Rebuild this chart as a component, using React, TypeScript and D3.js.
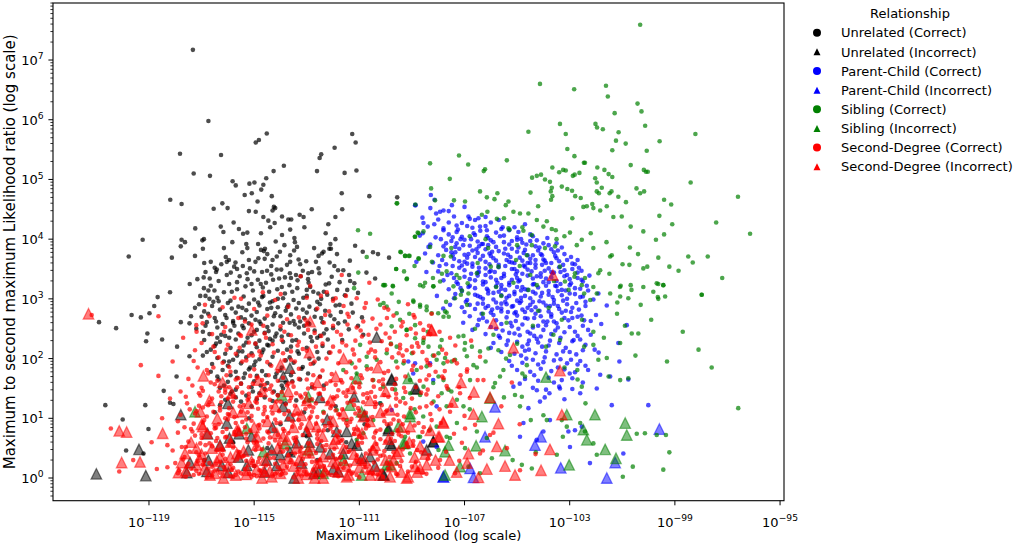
import React from "react";
import * as d3 from "d3";

// All values are log10 exponents, stored as flat pairs: log10(max likelihood), log10(ratio), ...
const unrelatedCorrect: number[] = [
  -117.33,7.17, -116.74,5.98, -114.52,5.77, -114.94,5.62, -114.82,5.66, -111.27,5.76, -111.14,5.62, -111.94,5.53,
  -117.82,5.43, -116.26,5.41, -112.45,5.42, -112.51,5.36, -113.87,5.23, -114.26,5.14, -112.61,5.14, -111.11,5.15,
  -111.56,5.11, -117.30,5.10, -116.68,5.06, -115.82,4.97, -115.70,4.90, -114.54,5.02, -114.65,4.91, -114.73,4.83,
  -115.18,4.93, -114.99,4.95, -115.09,4.77, -115.36,4.74, -114.33,4.72, -111.67,4.77, -110.62,4.72, -118.19,4.66,
  -117.76,4.59, -114.87,4.63, -116.54,4.51, -116.21,4.60, -116.01,4.52, -114.25,4.54, -114.20,4.52, -114.30,4.48,
  -115.20,4.47, -114.94,4.46, -112.81,4.50, -111.65,4.50, -109.56,4.70, -113.94,4.38, -113.70,4.33, -113.59,4.33,
  -113.27,4.41, -113.12,4.37, -111.91,4.37, -115.78,4.28, -115.58,4.17, -114.65,4.37, -114.46,4.31, -117.24,4.18,
  -116.27,4.21, -116.17,4.12, -115.42,4.09, -115.26,4.11, -114.74,4.10, -114.39,4.20, -114.22,4.27, -113.94,4.07,
  -113.63,4.16, -113.47,4.02, -113.09,4.20, -112.18,4.25, -112.28,4.10, -111.91,4.00, -112.10,3.92, -112.14,3.84,
  -119.24,3.99, -117.76,3.99, -117.63,3.95, -117.79,3.88, -116.97,3.98, -116.91,4.00, -116.95,3.84, -115.83,3.95,
  -115.26,3.85, -114.74,3.82, -114.63,3.80, -114.59,3.84, -114.18,3.96, -114.02,3.79, -114.14,3.71, -113.63,3.73,
  -113.48,3.81, -113.37,3.87, -112.72,3.85, -112.42,3.76, -112.36,3.79, -112.08,3.84, -111.16,3.89, -119.77,3.71,
  -118.13,3.69, -116.08,3.70, -115.96,3.65, -116.04,3.62, -115.20,3.65, -114.84,3.68, -114.60,3.67, -114.30,3.65,
  -113.63,3.62, -113.31,3.66, -113.02,3.63, -112.13,3.61, -111.36,3.64, -110.87,3.79, -110.48,3.78, -110.29,3.75,
  -109.87,3.69,
  -116.50,3.52, -116.42,3.49, -117.16,3.33, -116.92,3.36, -116.69,3.34, -116.91,3.18, -116.74,3.14, -116.51,3.14,
  -116.04,3.40, -115.89,3.44, -115.71,3.61, -115.76,3.54, -115.43,3.55, -115.28,3.43, -115.16,3.51, -115.00,3.46,
  -114.86,3.32, -114.75,3.25, -114.67,3.19, -114.51,3.47, -114.28,3.32, -114.14,3.49, -113.97,3.49, -113.83,3.36,
  -113.64,3.43, -113.41,3.40, -113.23,3.38, -112.94,3.43, -112.93,3.27, -112.55,3.51, -112.52,3.43, -112.28,3.24,
  -111.81,3.48, -111.61,3.48, -111.39,3.40, -111.19,3.26, -110.73,3.44, -110.40,3.34, -118.20,3.11, -118.67,3.03,
  -115.65,3.16, -115.33,3.21, -114.43,3.12, -114.12,3.16, -113.83,3.09, -113.66,3.23, -113.36,3.18, -113.13,3.02,
  -112.87,3.20, -112.56,3.09, -112.22,3.07, -111.84,3.15, -111.46,3.15,
  -120.90,2.61, -120.25,2.51, -119.66,2.73, -119.31,2.69, -118.98,2.76, -118.80,2.88, -119.06,2.42, -119.11,2.29,
  -118.50,2.32, -117.93,2.20, -117.79,2.61, -117.46,2.59, -117.46,2.04, -117.95,1.70, -118.44,1.46, -118.20,1.26,
  -118.07,1.24, -120.66,1.22, -119.14,1.22, -120.00,0.98, -119.02,0.82, -119.87,0.46, -119.21,0.41,
  -116.4,3.02, -115.9,2.97, -115.4,3.04, -115.0,2.99, -114.7,3.03, -114.3,2.96, -113.9,3.01, -113.5,2.98, -113.0,3.05,
  -112.6,2.95, -112.0,3.00, -117.1,2.91, -116.6,2.88, -116.0,2.93, -115.6,2.87, -115.2,2.92, -114.8,2.89, -114.4,2.94,
  -114.1,2.86, -113.7,2.90, -113.3,2.93, -112.9,2.87, -112.5,2.91, -111.9,2.89, -111.3,2.92, -116.9,2.79, -116.3,2.82,
  -115.7,2.77, -115.3,2.81, -114.9,2.78, -114.5,2.83, -114.2,2.76, -113.8,2.80, -113.4,2.84, -113.0,2.77, -112.3,2.80,
  -111.7,2.78, -117.4,2.71, -116.5,2.68, -116.1,2.73, -115.5,2.69, -115.1,2.72, -114.6,2.67, -114.0,2.71, -113.6,2.74,
  -113.1,2.68, -112.7,2.70, -112.1,2.72, -110.9,2.69, -116.8,2.61, -116.2,2.58, -115.8,2.63, -115.2,2.59, -114.8,2.62,
  -114.3,2.57, -113.9,2.60, -113.5,2.63, -112.9,2.58, -112.4,2.61, -111.8,2.59, -117.2,2.50, -116.4,2.52, -115.9,2.47,
  -115.4,2.51, -114.9,2.48, -114.5,2.53, -114.0,2.49, -113.3,2.52, -112.7,2.47, -112.0,2.51, -111.4,2.49, -116.7,2.41,
  -116.1,2.38, -115.6,2.42, -115.1,2.39, -114.6,2.43, -114.2,2.37, -113.7,2.40, -113.1,2.42, -112.5,2.38, -116.9,2.31,
  -116.3,2.28, -115.7,2.32, -115.3,2.27, -114.8,2.30, -114.4,2.33, -113.9,2.28, -113.4,2.31, -112.8,2.29, -112.2,2.32,
  -116.5,2.21, -115.9,2.18, -115.4,2.22, -114.9,2.19, -114.5,2.23, -113.6,2.20, -113.0,2.18, -112.4,2.21, -116.8,2.11,
  -116.1,2.08, -115.6,2.12, -115.1,2.09, -114.7,2.10, -114.1,2.13, -113.3,2.08, -112.6,2.11, -116.4,2.01, -115.8,1.98,
  -115.3,2.02, -114.8,1.99, -114.3,2.03, -113.8,1.97, -112.9,2.00, -116.6,1.91, -116.0,1.88, -115.5,1.92, -115.0,1.89,
  -114.4,1.90, -113.5,1.93, -116.2,1.81, -115.7,1.78, -115.2,1.82, -114.7,1.79, -114.0,1.80, -113.2,1.83, -116.4,1.70,
  -115.9,1.72, -115.4,1.68, -114.9,1.71, -114.2,1.69, -113.6,1.72, -112.5,1.70, -116.0,1.61, -115.5,1.58, -115.0,1.62,
  -114.5,1.59, -113.8,1.60, -116.3,1.51, -115.7,1.48, -115.1,1.52, -114.6,1.49, -113.9,1.50, -112.8,1.52, -115.9,1.41,
  -115.3,1.38, -114.8,1.42, -114.1,1.39, -116.1,1.31, -115.5,1.28, -114.9,1.32, -114.3,1.29, -113.4,1.30,
  -116.5,1.10, -115.2,1.00, -114.0,0.90, -113.1,1.10, -112.2,0.80, -115.8,0.60, -114.5,0.50, -113.6,0.40, -112.6,0.30,
  -111.5,0.60, -116.9,0.30, -115.0,0.20, -113.0,0.70, -110.8,0.90, -111.9,1.20,
  -116.85,3.45, -116.25,3.58, -115.55,3.38, -114.95,3.62, -114.35,3.41, -113.75,3.57, -113.15,3.47, -112.65,3.62,
  -112.05,3.37, -117.05,3.05, -116.65,3.22, -116.15,3.11, -115.65,3.28, -115.05,3.14, -114.55,3.27, -113.95,3.20,
  -113.35,3.31, -112.75,3.12, -112.15,3.26, -111.55,3.06, -116.75,2.75, -116.35,2.96, -115.85,2.84, -115.35,2.66,
  -114.85,2.94, -114.25,2.71, -113.75,2.86, -113.25,2.62, -112.65,2.82, -111.95,2.66, -111.25,2.77, -116.95,2.45,
  -116.45,2.62, -115.95,2.35, -115.45,2.55, -114.95,2.25, -114.45,2.46, -113.95,2.37, -113.45,2.57, -112.85,2.36,
  -112.25,2.49, -111.65,2.31, -116.65,2.15, -116.15,1.95, -115.65,2.05, -115.15,1.85, -114.65,2.15, -114.15,1.75,
  -113.65,2.02, -113.15,1.86, -112.55,2.00, -116.35,1.65, -115.85,1.45, -115.35,1.75, -114.75,1.55, -114.25,1.45,
  -113.55,1.62, -112.95,1.75,
  -117.25,3.72, -116.65,3.62, -116.15,3.85, -115.45,3.78, -114.85,3.92, -114.35,3.55, -113.85,3.90, -113.25,3.58,
  -112.55,3.72, -111.85,3.75, -117.45,3.25, -116.85,3.05, -116.35,3.30, -115.85,3.12, -115.25,3.33, -114.65,3.05,
  -114.05,3.34, -113.55,3.12, -112.95,3.33, -112.35,3.12, -111.75,3.28, -111.05,3.10, -117.25,2.85, -116.55,2.95,
  -116.05,2.68, -115.45,2.85, -114.95,2.65, -114.35,2.85, -113.65,2.60, -113.15,2.82, -112.45,2.68, -111.75,2.90,
  -111.05,2.55, -116.85,2.55, -116.25,2.40, -115.75,2.55, -115.25,2.35, -114.75,2.58, -114.15,2.42, -113.55,2.30,
  -112.95,2.60, -112.35,2.42, -111.55,2.62, -110.85,2.40, -116.95,2.05, -116.45,2.25, -115.95,1.95, -115.45,2.12,
  -114.95,1.95, -114.45,2.22, -113.95,1.85, -113.35,2.12, -112.75,1.92, -112.15,2.10, -116.65,1.78, -116.15,1.55,
  -115.65,1.68, -115.05,1.45, -114.55,1.72, -113.95,1.55, -113.25,1.65, -112.35,1.55, -116.30,1.22, -115.70,1.35,
  -115.10,1.20, -114.60,1.35, -113.80,1.25, -112.90,1.30,
  -115.65,3.50, -115.10,3.25, -114.70,3.45, -114.10,3.00, -113.60,3.35, -113.00,3.15, -112.45,3.00, -115.95,3.25,
  -116.45,3.45, -116.90,3.60, -115.30,3.92, -114.50,3.75, -113.45,3.95, -112.80,3.45, -111.95,3.55, -111.35,3.30,
  -115.80,2.60, -115.00,2.45, -114.30,2.30, -113.75,2.15, -113.10,2.55, -112.60,2.35, -116.40,2.35, -117.00,2.70,
  -116.70,3.00,
];

const unrelatedIncorrect: number[] = [
  -121.00,0.07, -119.12,0.04, -119.38,0.48, -117.79,1.06, -116.04,0.92, -116.77,0.74, -115.57,0.74, -115.94,0.67,
  -113.64,1.84, -113.89,1.70, -110.34,2.36, -109.77,1.66, -108.82,1.49, -111.20,1.36, -113.64,1.04, -112.22,0.98,
  -111.86,0.78, -111.48,0.78, -114.33,0.47, -113.64,0.44, -113.38,0.59, -113.00,0.78, -112.49,0.52, -112.11,0.41,
  -111.61,0.41, -111.29,0.58, -110.59,0.36, -109.90,0.80, -109.77,0.55, -108.19,0.61, -117.44,0.26, -117.56,0.09,
  -116.74,0.30, -116.23,0.21, -115.98,0.09, -115.28,0.21, -114.52,0.30, -114.14,0.21, -113.48,0.00, -112.72,0.08,
  -112.55,0.11, -111.80,0.11, -110.09,0.05, -110.91,0.33, -115.22,0.47, -114.02,0.39, -116.80,0.11,
  -108.18,0.61, -108.44,0.47, -108.88,1.50, -109.77,1.64, -109.89,0.83, -109.83,0.58, -110.06,0.05,
  -116.3,0.55, -115.1,0.70, -114.6,0.10, -113.2,0.25, -112.9,0.60, -112.0,0.15, -111.1,0.55, -110.4,0.20, -115.6,0.35,
  -114.3,0.85, -113.9,1.20, -116.0,1.25, -112.5,1.35, -110.8,1.05,
];

const parentChildCorrect: number[] = [
  -108.3,4.52, -107.6,4.47, -107.0,4.54, -108.6,4.36, -108.0,4.33, -107.4,4.38, -106.8,4.34, -106.2,4.37, -105.7,4.32,
  -108.4,4.21, -107.8,4.18, -107.3,4.23, -106.7,4.19, -106.2,4.22, -105.6,4.17, -105.1,4.20, -108.7,4.06, -108.1,4.03,
  -107.6,4.08, -107.1,4.04, -106.6,4.07, -106.1,4.02, -105.5,4.06, -105.0,4.03, -104.5,4.08, -108.3,3.91, -107.8,3.88,
  -107.3,3.93, -106.8,3.89, -106.3,3.92, -105.8,3.87, -105.3,3.91, -104.8,3.94, -104.3,3.88, -103.8,3.90, -108.5,3.76,
  -108.0,3.73, -107.5,3.78, -107.0,3.74, -106.5,3.77, -106.0,3.72, -105.5,3.76, -105.0,3.79, -104.6,3.73, -104.1,3.75,
  -103.6,3.78, -108.2,3.61, -107.7,3.58, -107.2,3.63, -106.7,3.59, -106.2,3.62, -105.7,3.57, -105.2,3.61, -104.8,3.64,
  -104.3,3.58, -103.9,3.60, -103.4,3.63, -102.9,3.59, -108.0,3.46, -107.5,3.43, -107.0,3.48, -106.5,3.44, -106.0,3.47,
  -105.5,3.42, -105.0,3.46, -104.6,3.49, -104.1,3.43, -103.7,3.45, -103.2,3.48, -102.7,3.44, -107.8,3.31, -107.3,3.28,
  -106.8,3.33, -106.3,3.29, -105.8,3.32, -105.3,3.27, -104.9,3.31, -104.4,3.34, -104.0,3.28, -103.5,3.30, -103.0,3.33,
  -102.5,3.29, -107.6,3.16, -107.1,3.13, -106.6,3.18, -106.1,3.14, -105.6,3.17, -105.1,3.12, -104.7,3.16, -104.2,3.19,
  -103.8,3.13, -103.3,3.15, -102.8,3.18, -102.3,3.14, -107.4,3.01, -106.9,2.98, -106.4,3.03, -105.9,2.99, -105.4,3.02,
  -105.0,2.97, -104.5,3.01, -104.1,3.04, -103.6,2.98, -103.1,3.00, -102.6,3.03, -102.1,2.99, -107.1,2.86, -106.6,2.83,
  -106.1,2.88, -105.6,2.84, -105.2,2.87, -104.8,2.82, -104.3,2.86, -103.9,2.89, -103.4,2.83, -102.9,2.85, -102.4,2.88,
  -106.8,2.71, -106.3,2.68, -105.9,2.73, -105.4,2.69, -105.0,2.72, -104.6,2.67, -104.1,2.71, -103.7,2.74, -103.2,2.68,
  -102.7,2.70, -102.0,2.73, -106.5,2.56, -106.0,2.53, -105.6,2.58, -105.2,2.54, -104.8,2.57, -104.4,2.52, -103.9,2.56,
  -103.5,2.59, -103.0,2.53, -102.5,2.55, -101.8,2.58, -106.2,2.41, -105.7,2.38, -105.3,2.43, -104.9,2.39, -104.5,2.42,
  -104.1,2.37, -103.7,2.41, -103.2,2.44, -102.7,2.38, -102.2,2.40, -105.9,2.26, -105.4,2.23, -105.0,2.28, -104.6,2.24,
  -104.2,2.27, -103.8,2.22, -103.4,2.26, -102.9,2.29, -102.4,2.23, -105.6,2.11, -105.1,2.08, -104.7,2.13, -104.3,2.09,
  -103.9,2.12, -103.5,2.07, -103.0,2.11, -102.5,2.14, -105.3,1.96, -104.8,1.93, -104.4,1.98, -104.0,1.94, -103.6,1.97,
  -103.1,1.92, -102.6,1.96, -105.0,1.81, -104.5,1.78, -104.1,1.83, -103.7,1.79, -103.2,1.82, -102.8,1.77, -102.3,1.81,
  -104.7,1.66, -104.2,1.63, -103.8,1.68, -103.3,1.64, -102.9,1.67, -104.4,1.51, -103.9,1.48, -103.4,1.53, -102.9,1.49,
  -107.3,4.12, -106.4,4.14, -105.8,4.11, -107.5,3.97, -107.0,3.99, -106.5,3.96, -106.0,3.98, -105.5,3.95, -105.0,3.99,
  -104.5,3.97, -107.7,3.82, -107.2,3.84, -106.7,3.81, -106.2,3.83, -105.7,3.80, -105.2,3.84, -104.7,3.82, -104.2,3.81,
  -103.7,3.83, -107.4,3.67, -106.9,3.69, -106.4,3.66, -105.9,3.68, -105.4,3.65, -104.9,3.69, -104.5,3.67, -104.0,3.66,
  -103.5,3.68, -103.1,3.65, -107.2,3.52, -106.7,3.54, -106.2,3.51, -105.7,3.53, -105.2,3.50, -104.7,3.54, -104.3,3.52,
  -103.8,3.51, -103.4,3.53, -102.9,3.50, -107.0,3.37, -106.5,3.39, -106.0,3.36, -105.5,3.38, -105.0,3.35, -104.6,3.39,
  -104.1,3.37, -103.7,3.36, -103.2,3.38, -102.7,3.35, -106.8,3.22, -106.3,3.24, -105.8,3.21, -105.3,3.23, -104.8,3.20,
  -104.4,3.24, -103.9,3.22, -103.5,3.21, -103.0,3.23, -106.6,3.07, -106.1,3.09, -105.6,3.06, -105.1,3.08, -104.7,3.05,
  -104.3,3.09, -103.8,3.07, -103.3,3.06, -102.8,3.08, -106.3,2.92, -105.8,2.94, -105.4,2.91, -104.9,2.93, -104.5,2.90,
  -104.0,2.94, -103.6,2.92, -103.1,2.91, -106.0,2.77, -105.6,2.79, -105.1,2.76, -104.7,2.78, -104.3,2.75, -103.8,2.79,
  -103.3,2.77,
  -107.15,4.00, -106.35,3.92, -105.65,4.05, -104.95,3.86, -104.25,3.98, -103.55,3.72, -107.45,3.55, -106.85,3.75,
  -106.05,3.58, -105.35,3.74, -104.75,3.56, -104.05,3.73, -103.25,3.57, -102.55,3.47, -107.25,3.25, -106.45,3.45,
  -105.75,3.27, -105.05,3.41, -104.35,3.25, -103.65,3.43, -102.95,3.26, -102.25,3.39, -106.95,2.95, -106.15,3.17,
  -105.45,2.95, -104.85,3.14, -104.15,2.96, -103.45,3.13, -102.75,2.93, -106.45,2.65, -105.75,2.85, -105.05,2.63,
  -104.45,2.81, -103.85,2.62, -103.15,2.80, -102.45,2.64, -105.65,2.35, -104.95,2.50, -104.25,2.33, -103.55,2.47,
  -102.85,2.31, -104.85,2.05, -104.05,2.20, -103.35,1.99, -102.75,2.07, -108.15,4.25, -107.85,3.65, -108.45,3.45,
  -108.05,3.05, -107.55,2.90, -107.05,2.60,
  -107.6,4.28, -106.9,4.22, -106.0,4.28, -105.3,4.15, -104.7,4.25, -107.9,4.00, -107.35,3.87, -106.75,4.00, -106.1,3.90,
  -105.45,3.84, -104.85,4.00, -104.15,3.86, -103.5,3.93, -107.95,3.55, -107.45,3.73, -106.9,3.59, -106.3,3.72,
  -105.8,3.64, -105.25,3.70, -104.6,3.60, -104.05,3.57, -103.45,3.81, -102.95,3.70, -107.65,3.40, -107.1,3.56,
  -106.6,3.31, -106.05,3.45, -105.45,3.55, -104.95,3.29, -104.45,3.46, -103.9,3.34, -103.35,3.45, -102.8,3.58,
  -102.35,3.22, -107.35,3.08, -106.85,3.20, -106.3,3.00, -105.7,3.12, -105.2,3.32, -104.6,3.15, -104.05,3.10,
  -103.55,3.22, -103.0,3.09, -102.5,3.04, -107.0,2.78, -106.5,2.92, -105.95,2.82, -105.35,2.78, -104.85,2.96,
  -104.35,2.68, -103.75,2.88, -103.25,2.97, -102.65,2.82, -102.2,2.63, -106.7,2.48, -106.15,2.62, -105.55,2.47,
  -105.05,2.78, -104.6,2.45, -104.0,2.62, -103.45,2.52, -102.9,2.68, -102.3,2.48, -106.0,2.18, -105.35,2.30, -104.8,2.20,
  -104.35,2.38, -103.75,2.30, -103.15,2.18, -102.6,2.32, -102.05,2.15, -105.2,1.88, -104.65,2.00, -104.2,1.90,
  -103.45,1.85, -102.95,1.98, -102.4,1.88, -101.9,2.10, -104.9,1.58, -104.35,1.72, -103.6,1.60, -103.0,1.75, -102.5,1.60,
  -103.95,1.35, -103.2,1.32, -107.45,4.03, -106.55,3.83, -105.95,3.79, -105.1,3.60, -104.4,3.73, -103.95,3.47,
  -103.1,3.40, -106.2,3.40, -105.6,3.35, -104.8,3.42, -105.3,3.05, -104.4,2.95, -103.7,2.70,
  -107.25,4.16, -106.65,4.10, -106.15,4.05, -105.55,4.20, -104.95,4.12, -104.40,4.05, -103.85,4.02, -107.70,3.93,
  -107.05,3.90, -106.45,3.88, -105.90,3.95, -105.20,3.97, -104.65,3.91, -104.00,3.93, -103.30,3.86, -107.35,3.78,
  -106.60,3.70, -106.05,3.76, -105.30,3.62, -104.75,3.77, -104.30,3.65, -103.70,3.60, -103.20,3.75, -102.70,3.65,
  -107.00,3.62, -106.45,3.52, -105.85,3.45, -105.10,3.50, -104.50,3.60, -103.95,3.64, -103.60,3.44, -102.65,3.52,
  -107.40,3.35, -106.75,3.42, -106.20,3.28, -105.60,3.23, -105.00,3.20, -104.25,3.38, -103.80,3.28, -103.35,3.25,
  -102.55,3.32, -107.15,3.18, -106.50,3.05, -105.90,3.10, -105.45,3.15, -104.85,3.02, -104.40,3.12, -103.65,3.03,
  -103.15,3.14, -102.60,3.17, -106.80,2.90, -106.20,2.85, -105.60,2.92, -105.15,2.88, -104.60,2.85, -104.15,2.80,
  -103.45,2.88, -102.95,2.78, -102.40,2.95, -106.35,2.75, -105.80,2.64, -105.25,2.60, -104.70,2.68, -104.20,2.55,
  -103.60,2.62, -103.05,2.64, -102.55,2.72, -105.80,2.50, -105.10,2.42, -104.55,2.30, -104.00,2.48, -103.35,2.35,
  -102.80,2.45, -104.55,2.15, -103.95,2.02, -103.25,2.12, -102.70,1.90,
  -108.88,4.57, -108.28,4.74, -108.14,4.66, -108.08,4.43, -107.93,4.46, -107.80,4.48, -107.48,4.57, -108.56,4.27,
  -108.59,4.10, -108.37,3.87, -107.80,4.15, -106.85,4.38, -106.60,4.32, -106.47,4.35, -107.10,4.27, -106.41,4.21,
  -106.15,4.15, -108.86,4.57, -108.83,3.62,
  -100.83,2.56, -100.77,1.65, -100.01,1.22, -101.40,1.22, -101.59,2.89, -101.91,3.09, -101.15,2.26, -101.11,1.95,
  -101.46,1.70, -101.84,1.73, -101.97,1.50, -102.60,1.42, -102.80,0.80, -102.54,0.86, -102.23,0.25, -103.05,0.78,
  -103.75,0.97, -104.00,0.78, -104.76,0.92, -104.57,1.17, -104.13,1.28, -104.25,1.47, -103.77,1.42, -103.37,1.50,
  -105.14,1.53, -104.89,0.69, -104.25,0.64, -102.99,0.52, -100.96,0.41,
  -108.31,1.92, -108.19,1.64, -109.14,1.95, -108.95,1.75, -107.81,2.84, -108.06,1.20, -109.77,1.14, -110.21,1.25,
  -108.57,0.61, -108.06,0.52, -108.88,1.92,
];

const parentChildIncorrect: number[] = [
  -105.84,1.19, -106.22,0.69, -104.09,0.69, -104.32,0.55, -103.34,0.17, -101.27,0.26, -101.59,0.00, -99.59,0.82,
  -106.79,0.16, -106.66,0.01, -107.80,0.02, -107.81,0.02,
];

const siblingCorrect: number[] = [
  -100.32,7.59, -104.13,6.60, -102.83,6.51, -101.62,6.57, -101.55,6.39, -100.42,6.27, -100.27,6.14, -101.29,6.11,
  -100.13,5.90, -103.37,5.93, -102.02,5.93, -101.96,5.87, -101.74,5.84, -104.57,5.80, -103.15,5.76, -98.22,5.76,
  -101.14,5.79, -101.24,5.65, -100.87,5.60, -99.58,5.64, -103.09,5.51, -101.38,5.49, -100.07,5.48, -102.82,5.39,
  -107.21,5.40, -105.39,5.32, -108.31,5.27, -106.86,5.25, -103.66,5.20, -103.25,5.16, -103.15,5.15, -103.40,5.12,
  -102.46,5.28, -102.42,5.28, -101.95,5.20, -101.68,5.16, -101.52,5.09, -101.38,5.04, -100.68,5.24, -100.18,5.16,
  -100.10,5.13, -100.03,5.13, -106.22,5.17, -106.27,5.14, -104.43,5.03, -104.25,5.06, -104.09,5.08, -103.94,5.00,
  -103.75,4.96, -102.88,5.06, -102.81,5.08, -102.63,5.11, -102.03,5.02, -101.97,4.95, -107.56,5.01, -108.27,4.85,
  -106.41,4.80, -105.75,4.77, -106.15,4.70, -105.86,4.67, -105.33,4.63, -103.68,4.86, -103.72,4.80, -103.66,4.72,
  -103.71,4.66, -103.30,4.88, -103.09,4.84, -102.91,4.81, -102.79,4.72, -104.49,4.78, -101.97,4.80, -101.89,4.77,
  -101.78,4.86, -101.48,4.77, -101.41,4.80, -101.15,4.71, -100.46,4.85, -100.32,4.77, -100.17,4.80, -99.41,4.66,
  -99.14,4.58, -96.60,4.71, -100.86,4.62, -102.58,4.69, -102.48,4.54, -102.35,4.55, -102.14,4.59, -102.10,4.52,
  -101.84,4.48, -101.59,4.55,
  -97.43,4.28, -96.14,4.09, -97.75,3.71, -98.49,3.71, -98.32,3.61, -97.98,3.07, -98.86,3.47, -99.21,3.54, -99.41,4.08,
  -99.59,4.39, -99.72,3.99, -99.63,3.69, -100.05,3.54, -100.20,3.51, -100.20,4.13, -100.68,4.21, -100.71,3.86,
  -100.73,3.57, -101.02,4.38, -101.34,4.37, -100.99,3.58, -100.68,3.23, -100.65,3.15, -99.63,3.25, -99.44,3.23,
  -99.82,3.12, -101.46,3.71, -101.40,3.73, -101.49,3.42, -101.84,3.48, -102.10,3.85, -102.20,4.10, -102.54,3.99,
  -102.73,3.90, -102.99,4.11, -103.20,4.05, -103.53,4.15, -103.68,4.17, -104.00,4.21, -103.87,4.30, -103.56,3.88,
  -102.80,3.43, -102.82,3.37, -102.42,3.35, -101.91,3.43, -102.10,3.20, -102.45,3.09, -104.25,4.32, -104.57,4.43,
  -104.89,4.43, -105.14,4.46, -105.43,4.57, -105.77,4.34, -106.13,4.46, -106.34,4.41, -106.98,4.63, -107.40,4.65,
  -108.12,4.65, -108.87,4.58, -109.58,4.60, -108.88,4.04, -108.56,4.13, -108.75,4.10, -109.42,3.78, -109.26,3.72,
  -109.09,3.72, -109.60,3.50, -108.75,3.68, -108.31,3.87, -108.24,3.62, -107.80,3.72, -107.68,3.46, -107.52,3.71,
  -107.86,3.42, -107.19,3.35, -108.50,3.27, -108.18,3.21, -108.69,3.23, -110.02,3.23, -109.73,3.22, -109.20,3.33,
  -107.10,3.14, -106.88,3.26, -106.53,3.43, -106.00,3.54, -105.71,3.54, -105.33,4.18, -105.29,4.16, -104.76,4.14,
  -104.44,4.07, -104.44,3.90, -104.63,3.73, -105.04,3.65, -105.14,3.27, -104.57,3.15, -104.25,3.23, -103.94,3.85,
  -103.37,3.54, -103.18,3.29, -103.04,3.15, -101.09,3.20, -101.46,3.09, -100.20,3.20, -99.37,3.04, -99.63,3.00,
  -97.98,3.07, -96.59,1.17, -99.44,3.23, -99.65,3.03, -99.69,3.26, -100.30,2.90, -100.77,3.01, -101.06,3.22,
  -100.39,2.42, -100.64,2.42, -101.08,3.04, -101.19,2.94, -101.08,2.26, -101.08,1.64, -100.77,1.67, -101.59,2.01,
  -101.52,1.70, -99.69,0.72, -99.34,0.72, -99.21,0.43, -99.44,0.14, -100.14,0.75, -100.45,0.74, -100.60,0.19,
  -100.98,0.02, -102.10,0.58, -101.97,0.39, -102.42,0.78, -102.60,0.92, -103.26,0.69, -103.49,0.39, -104.29,0.43,
  -104.48,0.97, -104.89,1.20, -105.08,1.39, -104.82,1.36, -104.70,1.70, -104.63,1.89, -105.65,1.70, -105.52,1.81,
  -105.84,1.59, -105.90,1.52, -105.27,2.06, -105.42,2.00, -105.71,2.14, -106.09,2.17, -106.41,2.12, -106.72,2.20,
  -106.98,2.26, -106.91,2.04, -107.36,1.98, -107.49,1.95, -106.66,1.89, -106.53,1.85, -106.79,1.64, -107.80,1.92,
  -107.99,2.09, -107.87,2.31, -107.23,2.37, -107.04,2.38, -107.80,2.70, -107.68,2.77, -108.25,2.76, -107.36,3.01,
  -107.14,3.07, -106.85,3.09, -107.42,3.21, -107.93,3.29, -108.94,2.95, -108.69,2.87, -108.44,2.81, -109.20,2.48,
  -108.88,2.56, -109.45,2.65, -109.77,2.54, -110.08,2.93, -108.56,2.31, -108.37,2.20, -109.00,2.09, -109.32,1.92,
  -107.99,1.70, -107.80,1.64, -107.61,1.48, -108.56,1.53, -109.07,1.42, -108.18,1.28, -107.29,1.31, -107.04,1.20,
  -107.29,0.92, -108.31,0.81, -107.55,0.67, -107.99,0.47, -108.69,0.69, -109.07,0.41, -109.58,0.25, -106.98,0.50,
  -106.53,0.78, -106.15,0.67, -105.96,0.33, -106.85,0.19, -106.41,0.08, -105.17,0.30, -104.82,0.22, -104.44,0.16,
  -103.87,0.97, -103.11,0.86, -103.30,0.97, -102.54,1.53, -102.71,1.81, -101.91,1.98, -102.10,2.23, -102.45,2.20,
  -102.53,2.65, -102.22,2.98, -102.54,3.23, -101.97,3.09, -103.62,2.40, -103.37,2.31,
  -110.09,3.23, -109.77,3.09, -108.57,3.21, -108.19,3.21, -108.95,2.97, -108.69,2.90, -108.44,2.87, -108.00,2.76,
  -107.74,2.79, -110.21,2.90, -109.96,2.87, -109.58,2.76, -109.20,2.48, -108.88,2.34, -108.57,2.26, -107.93,2.20,
  -107.74,2.01, -108.06,1.98, -108.44,1.87, -108.82,1.81, -109.07,1.64, -108.19,1.59, -107.87,1.42, -107.68,1.20,
  -108.69,1.39, -109.33,1.34, -109.64,1.48, -110.09,1.53, -110.47,1.64, -110.72,1.87, -110.34,1.98, -109.96,2.09,
  -109.58,2.20, -110.72,2.03, -111.10,1.75, -110.97,2.23, -111.29,1.92, -111.61,1.81, -108.57,1.03, -108.06,0.86,
  -107.68,0.69, -108.76,0.69, -109.26,0.69, -109.96,0.80, -110.47,0.97, -110.85,0.75, -111.10,0.64, -111.48,0.97,
  -111.86,1.14, -112.37,1.11,
  -111.05,4.15, -110.59,4.09, -110.72,3.70, -109.56,4.60, -109.44,3.79, -109.26,3.72, -109.12,3.72, -109.60,3.50,
  -109.30,3.46, -109.19,3.34, -110.06,3.23, -109.72,3.21, -111.04,3.44, -111.20,3.18, -108.89,4.04, -108.78,4.11,
  -108.74,3.67,
  -106.5,3.60, -105.8,3.20, -105.0,3.90, -104.5,3.40, -106.9,2.90, -105.4,2.60, -104.2,2.80, -103.6,3.30, -106.2,4.00,
  -107.3,3.40, -104.8,4.20, -105.9,2.40, -103.9,2.20, -106.6,2.50, -107.6,2.70,
  -109.5,2.95, -108.9,3.55, -108.2,3.35, -107.5,3.85, -106.8,4.05, -106.1,3.85, -105.5,4.35, -104.9,3.55, -104.2,4.55,
  -103.5,4.00, -109.8,2.25, -109.1,2.75, -108.4,2.45, -107.7,2.95, -107.0,2.15, -106.3,2.75, -105.6,3.05, -105.0,2.25,
  -104.4,2.55, -103.8,2.85, -110.2,1.25, -109.6,1.95, -108.9,1.15, -108.2,2.05, -107.5,1.45, -106.8,1.15, -106.2,1.95,
  -105.5,1.35, -104.8,1.75, -104.0,1.05, -103.2,1.85, -102.4,1.25, -101.7,2.35, -101.2,2.75, -100.5,2.05, -99.9,2.65,
  -99.3,1.95, -98.7,2.45, -98.1,2.15, -97.6,1.85, -102.9,4.35, -101.6,3.95, -100.4,3.75, -99.1,4.25, -98.4,4.95,
  -97.2,3.35, -103.3,2.65, -102.1,2.45, -100.9,2.55, -102.7,1.65,
];

const siblingIncorrect: number[] = [
  -117.25,1.11, -115.28,0.83, -113.95,1.39, -112.94,1.36, -111.10,1.67, -111.36,1.22, -110.92,1.11, -109.14,1.67,
  -109.52,0.86, -109.07,1.03, -109.33,0.58, -114.65,0.44, -112.94,0.47, -112.37,0.08, -110.91,0.05, -109.96,0.22,
  -107.74,0.44, -113.83,0.58, -111.61,0.30,
  -103.90,1.69, -103.11,1.06, -102.04,1.06, -100.89,0.92, -100.83,0.72, -102.48,0.81, -102.35,0.64, -101.65,0.48,
  -101.24,0.33, -103.02,0.22, -105.46,0.46, -106.56,0.54, -106.34,1.03, -107.17,0.19, -107.74,0.05, -107.61,0.55,
  -109.07,1.08, -109.26,0.58, -109.83,0.22, -106.03,1.34,
];

const secondDegreeCorrect: number[] = [
  -115.5,3.00, -114.2,2.98, -113.0,3.02, -112.0,2.97, -111.1,3.01, -110.3,2.99, -116.2,2.86, -115.0,2.83, -113.7,2.87,
  -112.6,2.84, -111.6,2.88, -110.8,2.85, -109.9,2.82, -116.7,2.71, -115.6,2.68, -114.5,2.72, -113.3,2.69, -112.3,2.73,
  -111.4,2.70, -110.5,2.67, -109.7,2.72, -108.9,2.69, -117.2,2.56, -116.1,2.53, -115.1,2.57, -114.0,2.54, -113.0,2.58,
  -112.0,2.55, -111.1,2.52, -110.2,2.57, -109.4,2.54, -116.6,2.41, -115.5,2.38, -114.6,2.42, -113.6,2.39, -112.7,2.43,
  -111.7,2.40, -110.9,2.37, -110.0,2.42, -109.2,2.39, -108.3,2.41, -117.0,2.26, -116.0,2.23, -115.2,2.27, -114.3,2.24,
  -113.3,2.28, -112.4,2.25, -111.5,2.22, -110.6,2.27, -109.8,2.24, -108.8,2.26, -116.5,2.11, -115.7,2.08, -114.8,2.12,
  -113.9,2.09, -113.0,2.13, -112.1,2.10, -111.2,2.07, -110.4,2.12, -109.5,2.09, -108.6,2.11, -107.7,2.08, -117.3,1.96,
  -116.2,1.93, -115.3,1.97, -114.5,1.94, -113.6,1.98, -112.7,1.95, -111.8,1.92, -111.0,1.97, -110.2,1.94, -109.3,1.96,
  -108.4,1.93, -107.4,1.97, -116.8,1.81, -115.9,1.78, -115.0,1.82, -114.1,1.79, -113.3,1.83, -112.4,1.80, -111.5,1.77,
  -110.7,1.82, -109.9,1.79, -109.0,1.81, -108.1,1.78, -106.9,1.82, -117.5,1.66, -116.4,1.63, -115.6,1.67, -114.7,1.64,
  -113.9,1.68, -113.0,1.65, -112.1,1.62, -111.3,1.67, -110.5,1.64, -109.6,1.66, -108.7,1.63, -107.8,1.67, -106.5,1.64,
  -117.0,1.51, -116.1,1.48, -115.2,1.52, -114.4,1.49, -113.5,1.53, -112.7,1.50, -111.8,1.47, -111.0,1.52, -110.2,1.49,
  -109.3,1.51, -108.4,1.48, -107.2,1.52, -117.6,1.36, -116.6,1.33, -115.8,1.37, -114.9,1.34, -114.1,1.38, -113.2,1.35,
  -112.4,1.32, -111.5,1.37, -110.7,1.34, -109.9,1.36, -109.0,1.33, -108.0,1.37, -106.8,1.34, -117.1,1.21, -116.3,1.18,
  -115.4,1.22, -114.6,1.19, -113.8,1.23, -112.9,1.20, -112.1,1.17, -111.2,1.22, -110.4,1.19, -109.6,1.21, -108.7,1.18,
  -107.5,1.22, -117.8,1.06, -116.8,1.03, -116.0,1.07, -115.1,1.04, -114.3,1.08, -113.5,1.05, -112.6,1.02, -111.8,1.07,
  -111.0,1.04, -110.1,1.06, -109.3,1.03, -108.3,1.07, -107.0,1.04, -117.3,0.91, -116.5,0.88, -115.7,0.92, -114.8,0.89,
  -114.0,0.93, -113.2,0.90, -112.3,0.87, -111.5,0.92, -110.7,0.89, -109.8,0.91, -108.9,0.88, -107.9,0.92, -106.6,0.89,
  -117.9,0.76, -117.0,0.73, -116.2,0.77, -115.3,0.74, -114.5,0.78, -113.7,0.75, -112.9,0.72, -112.0,0.77, -111.2,0.74,
  -110.4,0.76, -109.5,0.73, -108.6,0.77, -107.4,0.74, -105.9,0.76, -117.5,0.61, -116.7,0.58, -115.9,0.62, -115.0,0.59,
  -114.2,0.63, -113.4,0.60, -112.6,0.57, -111.7,0.62, -110.9,0.59, -110.0,0.61, -109.2,0.58, -108.2,0.62, -107.1,0.59,
  -118.1,0.46, -117.2,0.43, -116.4,0.47, -115.6,0.44, -114.7,0.48, -113.9,0.45, -113.1,0.42, -112.3,0.47, -111.4,0.44,
  -110.6,0.46, -109.7,0.43, -108.8,0.47, -107.7,0.44, -106.3,0.46, -117.7,0.31, -116.9,0.28, -116.1,0.32, -115.3,0.29,
  -114.4,0.33, -113.6,0.30, -112.8,0.27, -111.9,0.32, -111.1,0.29, -110.3,0.31, -109.4,0.28, -108.4,0.32, -107.2,0.29,
  -118.3,0.18, -117.4,0.16, -116.6,0.19, -115.8,0.17, -115.0,0.20, -114.1,0.18, -113.3,0.15, -112.5,0.19, -111.6,0.17,
  -110.8,0.18, -109.9,0.16, -109.0,0.19, -108.0,0.17, -117.9,0.08, -117.1,0.07, -116.3,0.09, -115.5,0.08, -114.6,0.10,
  -113.8,0.08, -113.0,0.06, -112.2,0.09, -111.3,0.07, -110.5,0.08, -109.6,0.07, -108.6,0.09, -117.6,0.02, -116.8,0.01,
  -115.9,0.03, -115.1,0.02, -114.3,0.03, -113.5,0.01, -112.7,0.02, -111.8,0.03, -111.0,0.01, -110.1,0.02,
  -116.5,1.57, -115.5,1.58, -114.6,1.56, -113.7,1.58, -112.8,1.57, -111.9,1.56, -111.0,1.58, -110.1,1.57, -117.1,1.42,
  -116.1,1.43, -115.2,1.41, -114.3,1.43, -113.4,1.42, -112.5,1.41, -111.6,1.43, -110.7,1.42, -109.6,1.41, -116.7,1.27,
  -115.8,1.28, -114.9,1.26, -114.0,1.28, -113.1,1.27, -112.2,1.26, -111.3,1.28, -110.4,1.27, -117.2,1.12, -116.3,1.13,
  -115.5,1.11, -114.6,1.13, -113.7,1.12, -112.8,1.11, -111.9,1.13, -111.0,1.12, -110.0,1.11, -116.9,0.97, -116.0,0.98,
  -115.1,0.96, -114.2,0.98, -113.3,0.97, -112.4,0.96, -111.6,0.98, -110.7,0.97, -109.5,0.96, -117.4,0.82, -116.5,0.83,
  -115.6,0.81, -114.8,0.83, -113.9,0.82, -113.0,0.81, -112.1,0.83, -111.2,0.82, -110.2,0.81, -117.0,0.67, -116.1,0.68,
  -115.3,0.66, -114.4,0.68, -113.5,0.67, -112.6,0.66, -111.8,0.68, -110.9,0.67, -109.8,0.66, -117.6,0.52, -116.6,0.53,
  -115.8,0.51, -114.9,0.53, -114.0,0.52, -113.2,0.51, -112.4,0.53, -111.5,0.52, -110.5,0.51, -117.1,0.38, -116.2,0.39,
  -115.4,0.37, -114.5,0.39, -113.7,0.38, -112.9,0.37, -112.0,0.39, -111.1,0.38, -110.2,0.37, -117.5,0.24, -116.7,0.25,
  -115.9,0.23, -115.1,0.25, -114.2,0.24, -113.4,0.23, -112.6,0.25, -111.7,0.24, -110.8,0.23, -117.2,0.12, -116.4,0.13,
  -115.6,0.11, -114.8,0.13, -113.9,0.12, -113.1,0.11, -112.3,0.13, -111.4,0.12, -116.6,0.04, -115.7,0.05, -114.9,0.03,
  -114.0,0.05, -113.2,0.04, -112.4,0.03,
  -117.30,0.05, -116.95,0.22, -116.55,0.11, -116.20,0.47, -115.85,0.14, -115.45,0.36, -115.20,0.07, -114.85,0.27,
  -114.45,0.58, -114.15,0.09, -113.75,0.19, -113.45,0.41, -113.05,0.23, -112.75,0.14, -112.45,0.62, -112.05,0.05,
  -111.75,0.33, -111.35,0.21, -111.05,0.55, -110.65,0.09, -110.35,0.44, -109.95,0.25, -109.55,0.06, -109.15,0.52,
  -108.75,0.14, -108.35,0.38, -117.65,0.35, -117.25,0.71, -116.85,0.55, -116.45,0.84, -116.05,0.69, -115.75,1.02,
  -115.35,0.85, -114.95,0.71, -114.65,0.95, -114.25,0.81, -113.85,1.07, -113.55,0.86, -113.15,0.72, -112.85,1.03,
  -112.55,0.79, -112.15,0.92, -111.85,0.71, -111.45,0.88, -111.15,1.08, -110.75,0.83, -110.45,0.68, -110.05,0.95,
  -109.75,0.74, -109.35,0.90, -108.95,0.62, -108.55,0.85, -117.45,1.15, -117.05,1.38, -116.75,1.22, -116.35,1.45,
  -115.95,1.17, -115.65,1.52, -115.25,1.31, -114.85,1.16, -114.55,1.47, -114.15,1.28, -113.75,1.55, -113.45,1.21,
  -113.05,1.41, -112.75,1.18, -112.35,1.49, -111.95,1.33, -111.65,1.15, -111.25,1.51, -110.85,1.27, -110.55,1.44,
  -110.15,1.22, -109.75,1.49, -109.45,1.28, -109.05,1.17, -108.65,1.43, -108.25,1.25, -116.75,1.75, -116.35,2.02,
  -115.95,1.86, -115.55,2.18, -115.15,1.71, -114.75,2.05, -114.35,1.88, -113.95,2.31, -113.55,1.77, -113.15,2.16,
  -112.85,1.91, -112.45,2.38, -112.05,1.74, -111.75,2.12, -111.35,1.95, -110.95,2.47, -110.55,1.83, -110.15,2.29,
  -109.75,2.02, -109.35,2.61, -108.95,1.88, -108.55,2.35, -108.15,2.05, -107.75,1.79, -107.35,2.22, -116.15,2.45,
  -115.35,2.62, -114.55,2.35, -113.75,2.66, -112.95,2.48, -112.15,2.79, -111.45,2.57, -110.75,2.93, -109.95,2.68,
  -109.15,2.91, -118.10,1.95, -117.80,1.45, -117.90,0.95, -118.30,0.55, -118.00,0.25, -117.70,2.35,
  -117.85,0.13, -117.55,0.19, -117.15,0.28, -116.75,0.16, -116.45,0.24, -116.15,0.18, -115.65,0.31, -115.35,0.15,
  -115.05,0.29, -114.75,0.12, -114.55,0.21, -114.25,0.34, -113.95,0.07, -113.65,0.26, -113.35,0.11, -113.15,0.32,
  -112.85,0.05, -112.65,0.28, -112.35,0.20, -112.15,0.34, -111.85,0.15, -111.55,0.27, -111.25,0.09, -110.95,0.31,
  -110.75,0.18, -110.45,0.26, -110.15,0.12, -109.85,0.35, -109.45,0.20, -109.15,0.11, -108.85,0.27, -108.45,0.07,
  -117.75,0.52, -117.45,0.44, -117.05,0.58, -116.85,0.41, -116.45,0.62, -116.25,0.49, -115.95,0.55, -115.55,0.43,
  -115.25,0.60, -114.95,0.47, -114.65,0.66, -114.35,0.44, -114.05,0.57, -113.75,0.49, -113.45,0.63, -113.25,0.45,
  -112.95,0.58, -112.65,0.42, -112.25,0.55, -111.95,0.49, -111.65,0.64, -111.35,0.46, -111.05,0.59, -110.75,0.41,
  -110.35,0.57, -110.05,0.45, -109.65,0.62, -109.35,0.48, -108.95,0.55, -108.65,0.43,
  -117.65,0.85, -117.35,0.78, -116.95,0.93, -116.65,0.75, -116.35,0.90, -116.05,0.82, -115.75,0.77, -115.45,0.94,
  -115.15,0.80, -114.85,0.88, -114.45,0.76, -114.15,0.92, -113.85,0.79, -113.55,0.95, -113.25,0.84, -112.95,0.77,
  -112.65,0.91, -112.35,0.80, -112.05,0.88, -111.75,0.78, -111.35,0.94, -111.05,0.81, -110.65,0.87, -110.35,0.79,
  -109.95,0.90, -109.55,0.80, -109.15,0.76, -108.75,0.92, -108.35,0.79,
  -117.55,1.25, -117.25,1.08, -116.95,1.18, -116.55,1.11, -116.25,1.27, -115.95,1.06, -115.55,1.20, -115.25,1.10,
  -114.95,1.28, -114.65,1.07, -114.35,1.19, -114.05,1.12, -113.65,1.29, -113.35,1.08, -113.05,1.16, -112.65,1.25,
  -112.35,1.09, -112.05,1.21, -111.75,1.06, -111.45,1.26, -111.05,1.17, -110.75,1.09, -110.35,1.24, -109.95,1.13,
  -109.55,1.06, -109.25,1.25, -108.85,1.10, -108.45,1.20, -107.95,1.15,
  -117.35,1.55, -116.95,1.46, -116.65,1.60, -116.25,1.37, -115.95,1.52, -115.45,1.43, -115.05,1.58, -114.75,1.39,
  -114.35,1.55, -113.95,1.44, -113.55,1.60, -113.25,1.38, -112.95,1.50, -112.55,1.41, -112.25,1.58, -111.85,1.37,
  -111.45,1.47, -111.15,1.60, -110.85,1.40, -110.45,1.53, -110.05,1.39, -109.65,1.57, -109.25,1.44, -108.85,1.52,
  -108.45,1.40, -107.65,1.50,
  -117.15,1.85, -116.55,2.20, -116.05,1.72, -115.45,1.95, -114.95,2.25, -114.45,1.72, -113.85,1.97, -113.35,2.22,
  -112.75,1.72, -112.25,2.00, -111.65,2.27, -111.15,1.85, -110.65,2.10, -110.05,1.76, -109.45,2.17, -108.85,2.42,
  -108.35,1.72, -107.85,2.15, -107.15,1.72, -106.75,2.30,
  -115.8,0.02, -115.0,0.05, -114.2,0.07, -113.4,0.06, -112.6,0.04, -111.9,0.06, -111.1,0.05, -110.3,0.06, -116.3,0.27,
  -115.6,0.37, -114.8,0.33, -114.0,0.29, -113.2,0.37, -112.5,0.31, -111.7,0.36, -110.9,0.27, -110.1,0.38, -116.4,0.67,
  -115.7,0.72, -114.9,0.60, -114.1,0.72, -113.4,0.68, -112.6,0.73, -111.8,0.60, -111.0,0.70, -110.2,0.65, -109.4,0.70,
  -116.1,1.00, -115.3,0.98, -114.5,1.02, -113.7,0.99, -112.9,1.00, -112.1,1.01, -111.3,0.99, -110.5,1.02, -109.7,0.98,
  -116.0,1.33, -115.2,1.35, -114.4,1.31, -113.6,1.34, -112.8,1.32, -112.0,1.35, -111.2,1.31, -110.4,1.36, -109.6,1.33,
  -115.7,1.65, -114.9,1.68, -114.1,1.63, -113.3,1.66, -112.5,1.69, -111.7,1.64, -110.9,1.67, -110.1,1.65, -115.2,2.05,
  -113.6,2.12, -112.0,2.20, -110.4,2.02, -109.0,2.20,
  -111.85,2.45, -111.45,2.75, -111.15,2.30, -110.85,2.62, -110.55,2.15, -110.35,2.50, -110.05,2.85, -109.85,2.35,
  -109.55,1.85, -109.35,2.05, -109.05,2.50, -108.75,2.20, -108.45,1.65, -108.25,2.75, -107.95,2.45, -107.65,1.95,
  -111.65,1.60, -111.25,2.15, -110.95,1.72, -110.65,2.40, -110.25,1.62, -109.95,2.15, -109.65,2.45, -109.25,1.70,
  -108.95,2.10, -108.65,1.85, -108.35,2.55, -107.85,1.70, -107.55,2.35, -112.35,2.60, -112.65,2.20, -113.05,2.65,
  -113.45,1.95, -113.85,2.45, -114.25,2.10, -114.65,2.55, -115.05,2.05, -115.55,2.40, -116.05,2.15, -116.55,1.85,
  -121.18,2.73, -118.64,2.71, -119.31,1.89, -118.64,1.71, -118.20,1.33, -120.45,0.83, -120.13,0.11, -116.87,2.90,
  -116.96,2.59, -117.19,2.45, -117.25,2.14, -111.67,3.40, -110.62,3.27, -113.23,3.38, -112.87,3.22, -112.24,3.11,
  -111.51,3.05, -111.90,3.01, -113.99,3.08, -114.67,3.11, -115.75,3.02, -112.46,3.05,
  -108.94,2.73, -108.69,2.59, -108.56,2.48, -109.45,2.23, -109.20,2.14, -108.44,1.98, -108.31,1.89, -107.29,1.92,
  -106.91,1.78, -106.41,2.03, -107.68,1.54, -107.17,1.42, -106.28,1.64, -108.25,0.97, -107.55,1.11, -106.98,0.83,
  -106.03,0.72, -106.41,0.41, -105.39,0.50, -107.93,0.30, -107.36,0.08, -104.89,0.13, -105.60,1.20, -104.90,0.90,
  -104.30,0.40, -105.20,1.60, -118.90,0.60, -118.50,1.00, -119.60,0.30, -118.70,0.15,
];

const secondDegreeIncorrect: number[] = [
  -121.30,2.75,
  -120.13,0.79, -119.85,0.77, -120.04,0.26, -119.34,0.27, -118.48,0.75, -116.93,1.71, -117.04,1.11, -116.96,0.86,
  -115.09,2.48, -115.85,1.42, -115.47,1.11, -114.84,1.64, -112.87,2.62, -117.63,0.41, -117.76,0.26, -117.88,0.09,
  -117.06,0.30, -116.68,0.05, -116.17,0.00, -115.66,0.41, -115.28,0.13, -114.65,0.11, -114.33,0.02, -113.89,0.22,
  -113.13,0.13, -112.37,0.36, -111.99,0.58, -111.48,0.02, -111.10,0.30, -110.47,0.47, -110.34,0.13, -109.77,0.19,
  -109.14,0.02, -108.88,0.19, -108.44,0.22, -108.00,0.69, -107.81,0.94, -108.25,2.48, -113.38,1.14, -112.62,0.86,
  -111.61,1.08, -110.85,1.03, -109.83,1.14, -109.07,0.86, -114.90,0.69, -114.14,0.75, -115.66,0.80, -116.30,0.53,
  -113.76,0.64, -112.87,0.53, -111.86,0.25, -109.58,0.41, -108.69,0.53, -117.19,0.50, -116.42,0.28, -113.32,0.00,
  -112.37,0.00, -110.59,0.05,
  -116.9,0.15, -116.3,0.35, -115.7,0.05, -115.1,0.28, -114.4,0.12, -113.7,0.33, -113.0,0.06, -112.5,0.25, -111.8,0.10,
  -111.2,0.40, -110.6,0.15, -110.0,0.30, -109.4,0.10, -108.9,0.35, -115.9,0.60, -114.9,0.55, -113.9,0.70, -112.9,0.90,
  -111.9,0.65, -110.9,0.75, -116.4,1.00, -114.2,1.20, -112.1,1.30, -110.2,1.10, -117.4,0.60, -113.4,0.50, -111.5,0.20,
  -114.7,0.00, -116.0,0.20, -112.7,0.00,
  -117.2,0.22, -116.6,0.50, -116.1,0.10, -115.4,0.45, -114.9,0.15, -114.1,0.50, -113.5,0.20, -112.9,0.42, -112.3,0.12,
  -111.6,0.50, -111.0,0.18, -110.4,0.55, -109.7,0.30, -109.1,0.60, -108.5,0.40, -115.6,0.80, -114.5,0.95, -113.2,1.05,
  -112.0,0.95, -110.6,0.95, -109.4,0.85, -117.0,0.90, -115.2,1.25, -113.7,1.45, -112.6,1.60, -111.3,1.50, -110.0,1.45,
  -116.2,1.60, -114.0,1.90, -112.9,2.10, -111.6,2.00, -110.3,1.85,
  -117.6,0.12, -117.0,0.40, -116.5,0.08, -115.9,0.35, -115.3,0.06, -114.6,0.30, -114.0,0.08, -113.3,0.30, -112.7,0.15,
  -112.0,0.28, -111.4,0.05, -110.8,0.30, -110.2,0.05, -109.5,0.45, -108.8,0.10, -108.1,0.30, -107.3,0.10, -106.9,0.25,
  -116.8,0.75, -115.8,1.10, -115.0,0.85, -113.5,0.85, -112.4,0.70, -111.1,0.80, -109.9,0.65, -108.3,0.80, -114.7,1.45,
  -113.0,1.30, -111.9,1.70, -110.6,1.30, -116.7,1.30,
  -105.90,2.59, -105.14,2.18, -103.37,1.80, -108.25,2.47, -107.13,1.60, -106.64,1.44, -107.45,1.27, -106.66,1.07,
  -105.71,0.91, -107.80,0.92, -105.77,0.53, -106.85,0.41, -105.46,0.20, -106.15,0.15, -105.08,0.05, -104.09,0.13,
  -103.75,0.48, -103.30,1.06, -106.47,0.01, -107.95,0.69, -107.57,0.30, -108.69,0.16, -109.20,0.00, -109.83,0.02,
  -106.03,1.35, -103.64,3.40,
];

const xTickExponents = [-119, -115, -111, -107, -103, -99, -95];
const yTickExponents = [0, 1, 2, 3, 4, 5, 6, 7];
const legendTitle = "Relationship";
const legendLabels = [
  "Unrelated (Correct)", "Unrelated (Incorrect)", "Parent-Child (Correct)", "Parent-Child (Incorrect)",
  "Sibling (Correct)", "Sibling (Incorrect)", "Second-Degree (Correct)", "Second-Degree (Incorrect)",
];

const W = 1017, H = 543;
const L = 53, R = 784, T = 3, B = 500.7;
const FONT = "DejaVu Sans, sans-serif";

function toPoints(a: number[]): [number, number][] {
  const pts: [number, number][] = [];
  for (let i = 0; i + 1 < a.length; i += 2) pts.push([Math.pow(10, a[i]), Math.pow(10, a[i + 1])]);
  return pts;
}

function tri(s: number) {
  const h = s / 2;
  return `M0,${-h}L${-h},${h}L${h},${h}Z`;
}

export default function App() {
  const x = d3.scaleLog().domain([Math.pow(10, -122.65), Math.pow(10, -94.85)]).range([L, R]);
  const y = d3.scaleLog().domain([Math.pow(10, -0.38), Math.pow(10, 7.955)]).range([B, T]);

  const series = [
    { data: unrelatedCorrect, color: "#000000", triangle: false },
    { data: unrelatedIncorrect, color: "#000000", triangle: true },
    { data: parentChildCorrect, color: "#0000ff", triangle: false },
    { data: parentChildIncorrect, color: "#0000ff", triangle: true },
    { data: siblingCorrect, color: "#008000", triangle: false },
    { data: siblingIncorrect, color: "#008000", triangle: true },
    { data: secondDegreeCorrect, color: "#ff0000", triangle: false },
    { data: secondDegreeIncorrect, color: "#ff0000", triangle: true },
  ];

  const yMinor: number[] = [];
  for (let k = -1; k <= 7; k++) {
    for (let m = 2; m <= 9; m++) {
      const v = m * Math.pow(10, k);
      const py = y(v);
      if (py >= T && py <= B) yMinor.push(v);
    }
  }

  const triPath = tri(10.5);

  return (
    <svg width={W} height={H} style={{ position: "absolute", left: 0, top: 0, background: "#fff" }} fontFamily={FONT}>
      <rect x={0} y={0} width={W} height={H} fill="#fff" />
      {series.map((s, si) => (
        <g key={si}>
          {toPoints(s.data).map((p, i) =>
            s.triangle ? (
              <path key={i} d={triPath} transform={`translate(${x(p[0])},${y(p[1])})`} fill={s.color} fillOpacity={0.5}
                stroke={s.color} strokeOpacity={0.5} strokeWidth={1.3} />
            ) : (
              <circle key={i} cx={x(p[0])} cy={y(p[1])} r={2.3} fill={s.color} fillOpacity={0.7} />
            )
          )}
        </g>
      ))}
      <rect x={L} y={T} width={R - L} height={B - T} fill="none" stroke="#000" strokeWidth={1.1} />
      {xTickExponents.map((e) => {
        const px = x(Math.pow(10, e));
        return (
          <g key={e}>
            <line x1={px} x2={px} y1={B} y2={B + 4.6} stroke="#000" strokeWidth={1} />
            <text x={px} y={527} textAnchor="middle" fontSize={13} fill="#000">
              10<tspan fontSize={9.2} dy={-5.6}>{"\u2212" + Math.abs(e)}</tspan>
            </text>
          </g>
        );
      })}
      {yTickExponents.map((e) => {
        const py = y(Math.pow(10, e));
        return (
          <g key={e}>
            <line x1={L - 4.6} x2={L} y1={py} y2={py} stroke="#000" strokeWidth={1} />
            <text x={L - 9.4} y={py + 5} textAnchor="end" fontSize={13} fill="#000">
              10<tspan fontSize={9.2} dy={-5.6}>{String(e)}</tspan>
            </text>
          </g>
        );
      })}
      {yMinor.map((v, i) => {
        const py = y(v);
        return <line key={i} x1={L - 2.6} x2={L} y1={py} y2={py} stroke="#000" strokeWidth={0.8} />;
      })}
      <text x={(L + R) / 2} y={540} textAnchor="middle" fontSize={13} fill="#000">Maximum Likelihood (log scale)</text>
      <text transform={`translate(15,${(T + B) / 2}) rotate(-90)`} textAnchor="middle" fontSize={15} fill="#000">
        Maximum to second maximum Likelihood ratio (log scale)
      </text>
      <text x={910} y={18} textAnchor="middle" fontSize={13} fill="#000">{legendTitle}</text>
      {legendLabels.map((lab, i) => {
        const s = series[i];
        const cy = 32.7 + i * 19.15;
        return (
          <g key={lab}>
            {s.triangle ? (
              <path d={tri(7)} transform={`translate(817,${cy})`} fill={s.color} />
            ) : (
              <circle cx={817} cy={cy} r={4} fill={s.color} />
            )}
            <text x={841} y={cy + 4.7} fontSize={13} fill="#000">{lab}</text>
          </g>
        );
      })}
    </svg>
  );
}
